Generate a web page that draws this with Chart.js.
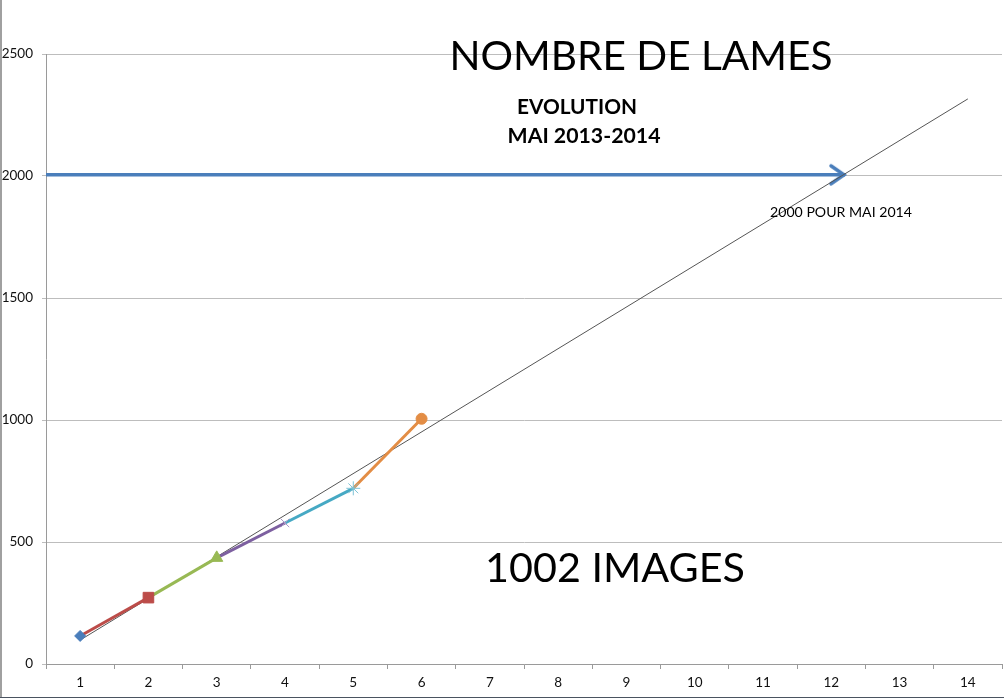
<!DOCTYPE html>
<html>
<head>
<meta charset="utf-8">
<script src="https://cdn.jsdelivr.net/npm/chart.js@4/dist/chart.umd.min.js"></script>
<style>
  html, body { margin: 0; padding: 0; background: #fff; overflow: hidden; }
  #wrap { position: relative; width: 1004px; height: 698px; }
  canvas { display: block; }
</style>
</head>
<body>
<div id="wrap"><canvas id="chart" width="1004" height="698"></canvas></div>
<script>
// ─── Data ──────────────────────────────────────────────────────────────────
const MONTHS = ['1', '2', '3', '4', '5', '6', '7', '8', '9', '10', '11', '12', '13', '14'];
const MONTH_X = [1, 2, 3, 4, 5, 6];
const LAMES = [115, 272, 435, 578, 720, 1005];
const TREND_X = [1, 14];
const TREND_Y = [98, 2316];
const TARGET_X = [0.5, 12.2];
const TARGET_Y = [2005, 2005];

// ─── Styles ────────────────────────────────────────────────────────────────
const FONT = 'Lato, "Open Sans", sans-serif';
const BLUE = '#4A7EBB';
const SEG_COLORS = ['#4A7EBB', '#BC4C49', '#98B954', '#7D60A0', '#46A9C4', '#E38D45'];
const MARKERS = [
  { style: 'rectRot', r: 5.5, bw: 1 },
  { style: 'rect', r: 7.5, bw: 1 },
  { style: 'triangle', r: 7, bw: 1 },
  { style: 'crossRot', r: 6, bw: 1, color: '#A995C6' },
  { style: 'star', r: 7, bw: 1, color: '#7FC3D6' },
  { style: 'circle', r: 5.5, bw: 1 },
];

// open chevron used as arrow head on the 2000 target line
function arrowHead() {
  const c = document.createElement('canvas');
  c.width = 34; c.height = 34;
  const g = c.getContext('2d');
  g.strokeStyle = BLUE; g.lineWidth = 3.5; g.lineCap = 'round'; g.lineJoin = 'miter';
  g.beginPath(); g.moveTo(3, 8); g.lineTo(16, 17); g.lineTo(3, 26); g.stroke();
  return c;
}

// ─── Datasets ──────────────────────────────────────────────────────────────
const datasets = [];

// first month: a single marker
datasets.push({
  data: [{ x: MONTH_X[0], y: LAMES[0] }],
  showLine: false, pointStyle: MARKERS[0].style, pointRadius: MARKERS[0].r,
  backgroundColor: SEG_COLORS[0], borderColor: SEG_COLORS[0], borderWidth: MARKERS[0].bw,
  order: 1,
});
// each following month: a coloured segment ending on its own marker
for (let i = 1; i < LAMES.length; i++) {
  const m = MARKERS[i];
  const col = SEG_COLORS[i];
  datasets.push({
    data: [{ x: MONTH_X[i - 1], y: LAMES[i - 1] }, { x: MONTH_X[i], y: LAMES[i] }],
    borderColor: col, backgroundColor: col, borderWidth: 3,
    pointStyle: m.style, pointRadius: [0, m.r], pointBorderWidth: m.bw,
    pointBorderColor: m.color || col, pointBackgroundColor: m.color || col,
    order: 2,
  });
}
// linear trend
datasets.push({
  data: TREND_X.map((x, i) => ({ x, y: TREND_Y[i] })),
  borderColor: '#555', borderWidth: 1, pointRadius: 0, order: 3,
});
// 2000 target arrow
datasets.push({
  data: TARGET_X.map((x, i) => ({ x, y: TARGET_Y[i] })),
  borderColor: BLUE, borderWidth: 3.5, pointRadius: [0, 17],
  pointStyle: [false, arrowHead()], order: 4,
});
datasets.forEach(d => { d.xAxisID = 'xl'; d.yAxisID = 'y'; d.tension = 0; d.fill = false; });

// ─── Text boxes ────────────────────────────────────────────────────────────
const LABELS = [
  { text: 'NOMBRE DE LAMES', weight: '400', w: 383, cx: 641, base: 70 },
  { text: 'EVOLUTION', weight: '700', w: 120, cx: 577, base: 114 },
  { text: 'MAI 2013-2014', weight: '700', w: 153, cx: 584, base: 143 },
  { text: '2000 POUR MAI 2014', weight: '400', w: 142, cx: 841, base: 216.5 },
  { text: '1002 IMAGES', weight: '400', w: 260, cx: 615, base: 581.5 },
];

const textPlugin = {
  id: 'textBoxes',
  afterDraw(chart) {
    const ctx = chart.ctx;
    ctx.save();
    ctx.fillStyle = '#000';
    ctx.textAlign = 'center';
    ctx.textBaseline = 'alphabetic';
    LABELS.forEach(l => {
      ctx.font = `${l.weight} 100px ${FONT}`;
      const size = 100 * l.w / ctx.measureText(l.text).width;
      ctx.font = `${l.weight} ${size.toFixed(2)}px ${FONT}`;
      ctx.fillText(l.text, l.cx, l.base);
    });
    // frame: grey line on the left, dark edge at the bottom
    ctx.strokeStyle = '#a0a0a0'; ctx.lineWidth = 2;
    ctx.beginPath(); ctx.moveTo(1, 0); ctx.lineTo(1, chart.height); ctx.stroke();
    ctx.strokeStyle = '#4a5360'; ctx.lineWidth = 1;
    ctx.beginPath(); ctx.moveTo(0, chart.height - 0.5); ctx.lineTo(chart.width, chart.height - 0.5); ctx.stroke();
    ctx.restore();
  }
};

// ─── Chart ─────────────────────────────────────────────────────────────────
new Chart(document.getElementById('chart').getContext('2d'), {
  type: 'line',
  data: { labels: MONTHS, datasets },
  plugins: [textPlugin],
  options: {
    responsive: false, animation: false,
    layout: { autoPadding: false, padding: { top: 54, right: 2, left: 0, bottom: 0 } },
    plugins: { legend: { display: false }, tooltip: { enabled: false }, title: { display: false } },
    scales: {
      x: {
        type: 'category', labels: MONTHS, bounds: 'ticks', offset: true,
        grid: { offset: true, drawOnChartArea: false, tickLength: 5, color: '#9a9a9a' },
        border: { color: '#9a9a9a' },
        ticks: { color: '#111', font: { family: FONT, size: 13.5 }, padding: 6, maxRotation: 0, autoSkip: false },
        afterFit: s => { s.height = 34; s.paddingLeft = 0; s.paddingRight = 0; },
      },
      xl: { type: 'linear', display: false, min: 0.5, max: 14.5 },
      y: {
        min: 0, max: 2500,
        grid: { color: '#bdbdbd', tickLength: 4 },
        border: { color: '#9a9a9a' },
        ticks: { stepSize: 500, color: '#111', font: { family: FONT, size: 13.5 }, padding: 9, callback: v => String(v) },
        afterFit: s => { s.width = 46; },
      },
    },
  },
});
</script>
</body>
</html>
